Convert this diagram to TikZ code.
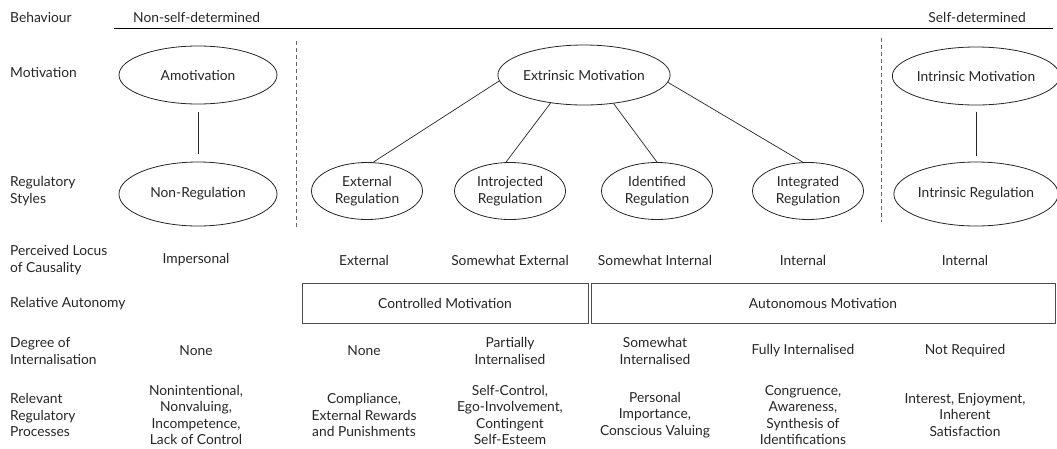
\documentclass[tikz,border=0pt]{standalone}
\usepackage{fontspec}
\setmainfont{Lato}
\usetikzlibrary{shapes.geometric}
\begin{document}
\begin{tikzpicture}[x=1pt,y=-1pt,
  every node/.style={font=\fontsize{13.8}{16.5}\selectfont, text=black!85},
  bigell/.style={ellipse, draw=black!85, line width=0.8pt, minimum width=158pt, minimum height=58pt, inner sep=0pt, align=center},
  lowell/.style={bigell, minimum height=64pt},
  smallell/.style={ellipse, draw=black!85, line width=0.8pt, minimum width=111pt, minimum height=57pt, inner sep=0pt, align=center},
  rowlbl/.style={anchor=west, align=left, inner sep=0pt},
  cell/.style={align=center, inner sep=0pt},
  conn/.style={draw=black!85, line width=0.7pt},
  divider/.style={draw=black!60, line width=0.8pt, dash pattern=on 4pt off 3pt},
  autobox/.style={rectangle, draw=black!70, line width=0.9pt, minimum height=40pt, inner sep=0pt}
]
\useasboundingbox (0,0) rectangle (1057,448);

% header
\node[rowlbl] (hbeh) at (10,17) {Behaviour};
\node[anchor=west, inner sep=0pt] (hnsd) at (133,17) {Non-self-determined};
\node[anchor=east, inner sep=0pt] (hsd) at (1026,17) {Self-determined};
\draw[line width=0.8pt] (114,28) -- (1053,28);

% row labels
\node[rowlbl] (lmot) at (10,72) {Motivation};
\node[rowlbl] (lreg) at (10,191) {Regulatory\\Styles};
\node[rowlbl] (lploc) at (10,260) {Perceived Locus\\of Causality};
\node[rowlbl] (lra) at (10,304) {Relative Autonomy};
\node[rowlbl] (ldeg) at (10,351) {Degree of\\Internalisation};
\node[rowlbl] (lproc) at (10,415) {Relevant\\Regulatory\\Processes};

% dividers
\coordinate (d1a) at (296,41);
\coordinate (d1b) at (296,228);
\coordinate (d2a) at (881,38);
\coordinate (d2b) at (881,222);
\draw[divider] (d1a) -- (d1b);
\draw[divider] (d2a) -- (d2b);

% ellipses
\node[bigell] (amot) at (198,75) {Amotivation};
\node[lowell] (nreg) at (198,194) {Non-Regulation};
\node[bigell, minimum height=60pt] (ext) at (584,75) {Extrinsic Motivation};
\node[smallell] (ereg) at (367,191) {External\\Regulation};
\node[smallell] (ireg) at (510,191) {Introjected\\Regulation};
\node[smallell] (idreg) at (657,191) {Identified\\Regulation};
\node[smallell] (inreg) at (808,191) {Integrated\\Regulation};
\node[bigell] (imot) at (976,76) {Intrinsic Motivation};
\node[lowell] (ireg2) at (976,194) {Intrinsic Regulation};

% connectors
\draw[conn, shorten <=8pt, shorten >=8pt] (amot) -- (nreg);
\draw[conn, shorten <=7pt, shorten >=6pt] (imot) -- (ireg2);
\draw[conn] (ext.184) -- (ereg.78);
\draw[conn] (ext.220) -- (ireg.98);
\draw[conn] (ext.316) -- (idreg.90);
\draw[conn] (ext.355) -- (inreg.100);

% perceived locus row
\node[cell] (p1) at (196,260) {Impersonal};
\node[cell] (p2) at (364,260) {External};
\node[cell] (p3) at (510,260) {Somewhat External};
\node[cell] (p4) at (655,260) {Somewhat Internal};
\node[cell] (p5) at (803,260) {Internal};
\node[cell] (p6) at (965,260) {Internal};

% relative autonomy boxes
\node[autobox, minimum width=286pt] (cm) at (445,303) {Controlled Motivation};
\node[autobox, minimum width=464pt] (am) at (823,303) {Autonomous Motivation};

% degree of internalisation
\node[cell] (g1) at (196,351) {None};
\node[cell] (g2) at (364,351) {None};
\node[cell] (g3) at (510,351) {Partially\\Internalised};
\node[cell] (g4) at (655,351) {Somewhat\\Internalised};
\node[cell] (g5) at (803,351) {Fully Internalised};
\node[cell] (g6) at (965,351) {Not Required};

% processes
\node[cell] (r1) at (196,415) {Nonintentional,\\Nonvaluing,\\Incompetence,\\Lack of Control};
\node[cell] (r2) at (364,415) {Compliance,\\External Rewards\\and Punishments};
\node[cell] (r3) at (510,415) {Self-Control,\\Ego-Involvement,\\Contingent\\Self-Esteem};
\node[cell] (r4) at (655,415) {Personal\\Importance,\\Conscious Valuing};
\node[cell] (r5) at (803,415) {Congruence,\\Awareness,\\Synthesis of\\Identifications};
\node[cell] (r6) at (965,415) {Interest, Enjoyment,\\Inherent\\Satisfaction};
\end{tikzpicture}
\end{document}
